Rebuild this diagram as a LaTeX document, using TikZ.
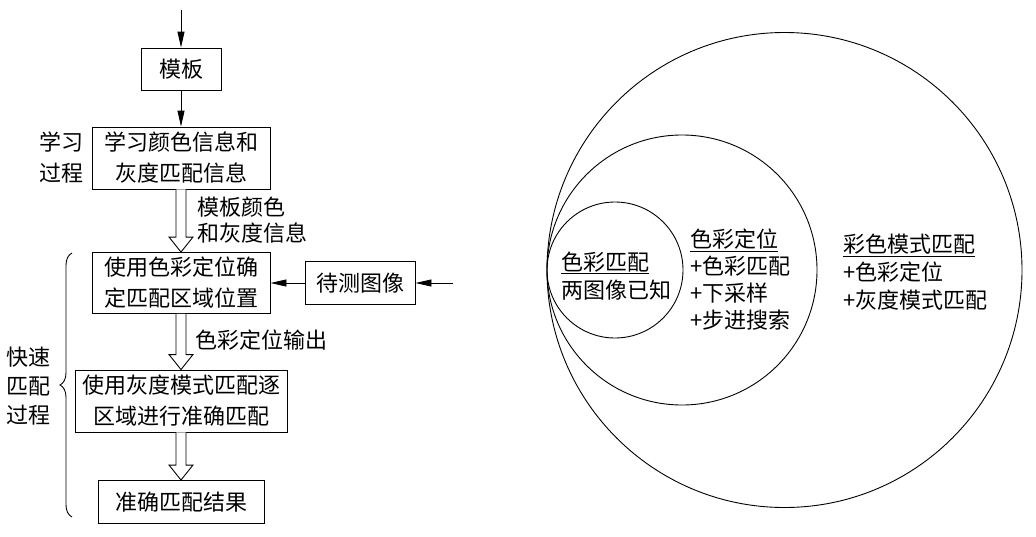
\documentclass[tikz,border=0pt]{standalone}
\usepackage{fontspec}
\setmainfont{Noto Sans CJK SC}
\usetikzlibrary{arrows.meta,calc,decorations.pathreplacing}
\begin{document}
\begin{tikzpicture}[x=1pt,y=-1pt,
  box/.style={draw,line width=0.9pt,inner sep=0pt,align=center,font=\fontsize{22}{31}\selectfont},
  lbl/.style={inner sep=0pt,align=left,font=\fontsize{22}{27}\selectfont},
  arr/.style={line width=0.9pt,-{Triangle[length=16pt,width=7pt]}},
  hollow/.style={draw,line width=0.9pt,fill=white},
  ring/.style={circle,draw,line width=0.9pt,inner sep=0pt}]
\useasboundingbox (0,0) rectangle (1036,536);
% left flowchart
\coordinate (top) at (181,10);
\node[box,minimum width=80,minimum height=42] (m) at (181,69) {模板};
\node[box,minimum width=178,minimum height=62] (learn) at (181,158) {学习颜色信息和\\灰度匹配信息};
\node[box,minimum width=178,minimum height=61] (loc) at (181,283) {使用色彩定位确\\定匹配区域位置};
\node[box,minimum width=110,minimum height=43] (test) at (360,283) {待测图像};
\coordinate (in) at (453,283);
\node[box,minimum width=212,minimum height=62] (gray) at (181,401) {使用灰度模式匹配逐\\区域进行准确匹配};
\node[box,minimum width=166,minimum height=43] (res) at (181,502) {准确匹配结果};
\draw[arr] (top) -- (m.north);
\draw[arr] (m.south) -- (learn.north);
\draw[arr] (test.west) -- (loc.east);
\draw[arr] (in) -- (test.east);
% hollow arrows
\draw[hollow] ($(learn.south)+(-5,0)$) -- ($(loc.north)+(-5,-15)$) -- ($(loc.north)+(-12,-15)$) -- (loc.north) -- ($(loc.north)+(12,-15)$) -- ($(loc.north)+(5,-15)$) -- ($(learn.south)+(5,0)$);
\draw[hollow] ($(loc.south)+(-5,0)$) -- ($(gray.north)+(-5,-15)$) -- ($(gray.north)+(-12,-15)$) -- (gray.north) -- ($(gray.north)+(12,-15)$) -- ($(gray.north)+(5,-15)$) -- ($(loc.south)+(5,0)$);
\draw[hollow] ($(gray.south)+(-5,0)$) -- ($(res.north)+(-5,-15)$) -- ($(res.north)+(-12,-15)$) -- (res.north) -- ($(res.north)+(12,-15)$) -- ($(res.north)+(5,-15)$) -- ($(gray.south)+(5,0)$);
% labels
\node[lbl,align=center,font=\fontsize{22}{31}\selectfont] (l1) at (61,158) {学习\\过程};
\node[lbl,anchor=west,font=\fontsize{22}{26}\selectfont] (l2) at (197,220) {模板颜色\\和灰度信息};
\node[lbl,anchor=west] (l3) at (195,340) {色彩定位输出};
\node[lbl,align=center,font=\fontsize{22}{29}\selectfont] (l4) at (28,386) {快速\\匹配\\过程};
\coordinate (bb) at (72,517);
\coordinate (bt) at (72,253);
\draw[line width=0.9pt,decorate,decoration={brace,amplitude=12pt}] (bb) -- (bt);
% circles
\node[ring,minimum size=475] (c1) at (784.5,270) {};
\node[ring,minimum size=270] (c2) at (682,270) {};
\node[ring,minimum size=136] (c3) at (615,270) {};
\node[lbl,anchor=west,font=\fontsize{22}{28}\selectfont] (t3) at (561,276) {\underline{色彩匹配}\\两图像已知};
\node[lbl,anchor=north west] (t2) at (690,229) {\underline{色彩定位}\\+色彩匹配\\+下采样\\+步进搜索};
\node[lbl,anchor=north west,font=\fontsize{22}{28}\selectfont] (t1) at (843,234) {\underline{彩色模式匹配}\\+色彩定位\\+灰度模式匹配};
\end{tikzpicture}
\end{document}
